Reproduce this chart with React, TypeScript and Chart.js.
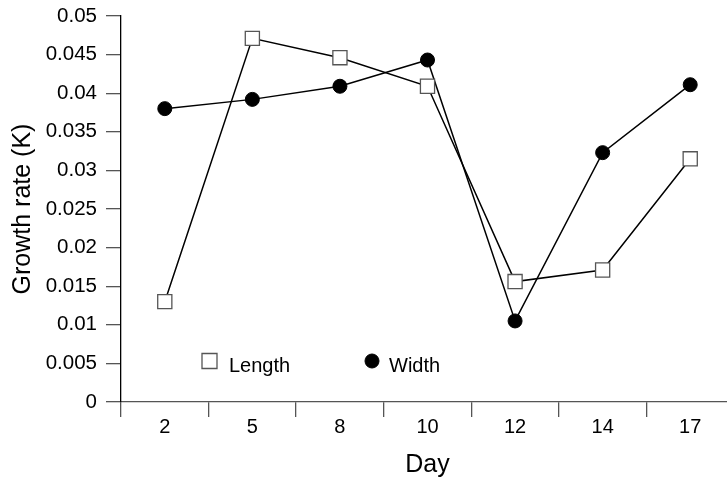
import React, { useEffect, useRef } from "react";
import { Chart, registerables } from "chart.js";

Chart.register(...registerables);

const days = ["2", "5", "8", "10", "12", "14", "17"];
const lengthValues = [0.013, 0.0471, 0.0446, 0.0409, 0.0156, 0.0171, 0.0315];
const widthValues = [0.038, 0.0392, 0.0409, 0.0443, 0.0105, 0.0323, 0.0411];
const yTickValues = [0, 0.005, 0.01, 0.015, 0.02, 0.025, 0.03, 0.035, 0.04, 0.045, 0.05];
const seriesNames = ["Length", "Width"];
const xTitle = "Day";
const yTitle = "Growth rate (K)";

const FONT = "'Liberation Sans', Arial, Helvetica, sans-serif";

const insideLegend = {
  id: "insideLegend",
  afterDatasetsDraw(chart: any, _args: any, opts: any) {
    const { ctx, chartArea } = chart;
    chart.data.datasets.forEach((ds: any, i: number) => {
      const pos = opts.positions[i];
      const mx = chartArea.left + pos.mx;
      const my = chartArea.bottom - pos.my;
      ctx.save();
      ctx.lineWidth = ds.pointBorderWidth;
      ctx.strokeStyle = ds.pointBorderColor;
      ctx.fillStyle = ds.pointBackgroundColor;
      if (ds.pointStyle === "rect") {
        const h = pos.size / 2;
        ctx.beginPath();
        ctx.rect(mx - h, my - h, pos.size, pos.size);
        ctx.fill();
        ctx.stroke();
      } else {
        ctx.beginPath();
        ctx.arc(mx, my, pos.size / 2, 0, Math.PI * 2);
        ctx.fill();
        ctx.stroke();
      }
      ctx.fillStyle = "#000";
      ctx.font = `20px ${FONT}`;
      ctx.textAlign = "left";
      ctx.textBaseline = "alphabetic";
      ctx.fillText(ds.label, chartArea.left + pos.tx, chartArea.bottom - pos.ty);
      ctx.restore();
    });
  },
};

export default function App() {
  const canvasRef = useRef<HTMLCanvasElement | null>(null);

  useEffect(() => {
    if (!canvasRef.current) return;
    const chart = new Chart(canvasRef.current, {
      type: "line",
      data: {
        labels: days,
        datasets: [
          {
            label: seriesNames[0],
            data: lengthValues,
            borderColor: "#000",
            borderWidth: 1.5,
            pointStyle: "rect",
            pointRadius: 10,
            pointBackgroundColor: "#fff",
            pointBorderColor: "#555",
            pointBorderWidth: 1.3,
            tension: 0,
            fill: false,
          },
          {
            label: seriesNames[1],
            data: widthValues,
            borderColor: "#000",
            borderWidth: 1.5,
            pointStyle: "circle",
            pointRadius: 7,
            pointBackgroundColor: "#000",
            pointBorderColor: "#000",
            pointBorderWidth: 1,
            tension: 0,
            fill: false,
          },
        ],
      },
      options: {
        responsive: false,
        animation: false,
        devicePixelRatio: 1,
        layout: { padding: { left: 0, right: 26, top: 16, bottom: 0 } },
        plugins: {
          legend: { display: false },
          tooltip: { enabled: false },
          insideLegend: {
            positions: [
              { mx: 88.5, my: 41, size: 15, tx: 108, ty: 30 },
              { mx: 251, my: 41, size: 14, tx: 268, ty: 30 },
            ],
          },
        } as any,
        scales: {
          x: {
            type: "category",
            offset: true,
            grid: {
              offset: true,
              drawOnChartArea: false,
              drawTicks: true,
              tickLength: 15,
              color: "#555",
              lineWidth: 1.3,
            },
            border: { display: true, color: "#555", width: 1.3 },
            ticks: {
              color: "#000",
              font: { family: FONT, size: 20, lineHeight: 1.0 },
              padding: 0,
              maxRotation: 0,
              autoSkip: false,
            },
            title: {
              display: true,
              text: xTitle,
              color: "#000",
              font: { family: FONT, size: 25, lineHeight: 1.1 },
              padding: { top: 0, bottom: 0 },
            },
            afterFit(scale: any) {
              scale.height = 77;
              scale.paddingLeft = 0;
              scale.paddingRight = 0;
            },
          },
          y: {
            min: 0,
            max: 0.05,
            grid: {
              drawOnChartArea: false,
              drawTicks: true,
              tickLength: 15,
              color: "#555",
              lineWidth: 1.3,
            },
            border: { display: true, color: "#000", width: 1.3 },
            afterBuildTicks(scale: any) {
              scale.ticks = yTickValues.map((v) => ({ value: v }));
            },
            ticks: {
              color: "#000",
              font: { family: FONT, size: 20.5 },
              padding: 9,
              callback: (v: any) => String(Number(Number(v).toFixed(3))),
            },
            title: {
              display: true,
              text: yTitle,
              color: "#000",
              font: { family: FONT, size: 25 },
              padding: { top: 8, bottom: 0 },
            },
            afterFit(scale: any) {
              scale.width = 121;
              scale.paddingTop = 0;
              scale.paddingBottom = 0;
            },
          },
        },
      },
      plugins: [insideLegend],
    });
    return () => chart.destroy();
  }, []);

  return (
    <div
      style={{
        position: "fixed",
        left: 0,
        top: 0,
        width: 727,
        height: 479,
        overflow: "hidden",
        background: "#fff",
      }}
    >
      <canvas ref={canvasRef} width={760} height={479} style={{ display: "block" }} />
    </div>
  );
}
